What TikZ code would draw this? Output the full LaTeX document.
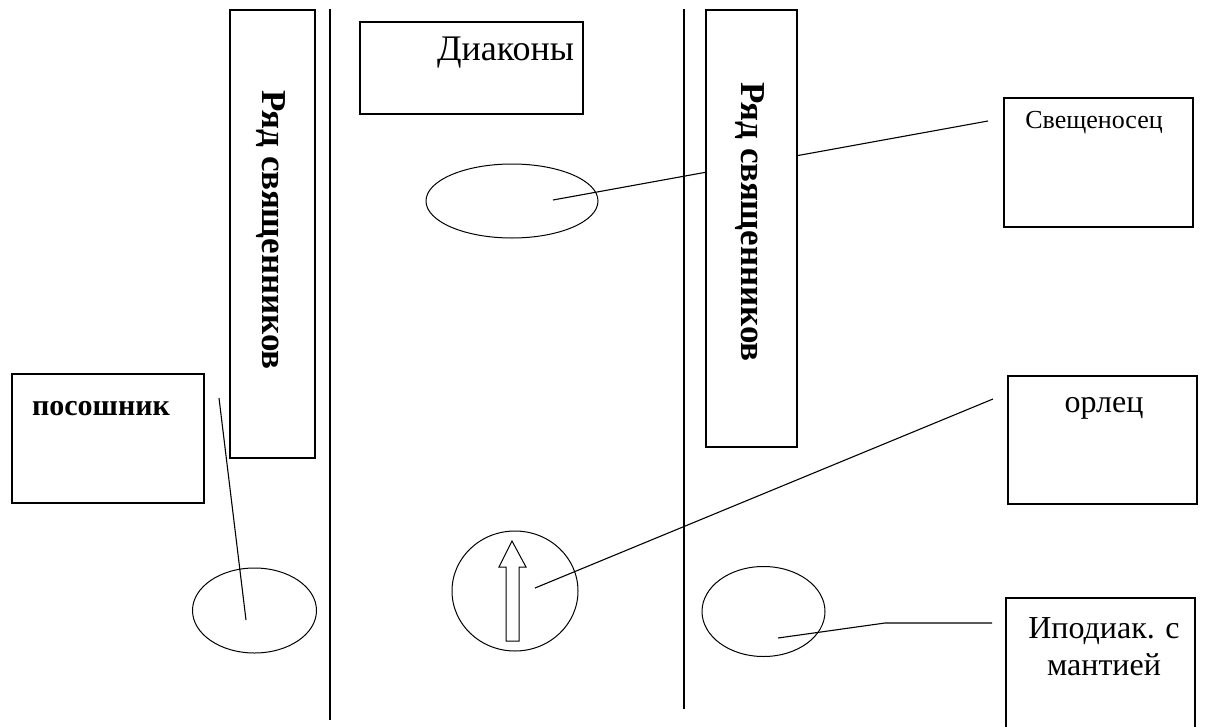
\documentclass[tikz,border=0pt]{standalone}
\usepackage{fontspec}
\setmainfont{Liberation Serif}
\usepackage{tikz}
\usetikzlibrary{shapes.geometric,positioning}

\tikzset{
  box/.style={draw, line width=1.3pt, fill=white, inner sep=0pt},
  oval/.style={draw, ellipse, line width=1pt, inner sep=0pt},
  link/.style={line width=1.1pt},
  aisle/.style={line width=1.6pt}
}

\begin{document}
\begin{tikzpicture}[x=1pt, y=-1pt]

\clip (0,0) rectangle (1213,726);
\fill[white] (0,0) rectangle (1213,726);

% Aisle lines
\coordinate (la) at (330,9);
\coordinate (lb) at (330,720);
\coordinate (ra) at (684,9);
\coordinate (rb) at (684,709);
\draw[aisle] (la) -- (lb);
\draw[aisle] (ra) -- (rb);

% Places (ovals)
\node[oval, minimum width=172pt, minimum height=74pt] (pdiak) at (512,201) {};
\node[oval, minimum width=124pt, minimum height=85pt] (pleft) at (254.5,610.5) {};
\node[oval, minimum width=123pt, minimum height=90pt] (pright) at (763.5,611.5) {};
\node[oval, minimum width=126pt, minimum height=120pt] (pbishop) at (515,591) {};

% Bishop arrow
\draw[line width=1pt] (506,641) -- (506,567) -- (499,567) -- (512,541)
  -- (526,567) -- (519,567) -- (519,641) -- cycle;

% Pointers
\coordinate (cdiak) at (553,200);
\coordinate (csvech) at (988,121);
\coordinate (cleft) at (246,620);
\coordinate (cpos) at (219,398);
\coordinate (cbishop) at (535,588);
\coordinate (corl) at (993,399);
\coordinate (cright) at (778,638);
\coordinate (ckink) at (885,623);
\coordinate (cipod) at (992,623);
\draw[link] (cdiak) -- (csvech);
\draw[link] (cleft) -- (cpos);
\draw[link] (cbishop) -- (corl);
\draw[link] (cright) -- (ckink) -- (cipod);

% Rows of priests
\node[box, minimum width=85pt, minimum height=448pt] (lrow) at (272.5,234) {};
\node[font=\fontsize{35}{40}\selectfont\bfseries, rotate=-90] (lrowtxt) at (271,230) {Ряд священников};
\node[box, minimum width=91pt, minimum height=437pt] (rrow) at (751.5,228.5) {};
\node[font=\fontsize{35}{40}\selectfont\bfseries, rotate=-90] (rrowtxt) at (750,222) {Ряд священников};

% Deacons
\node[box, minimum width=223pt, minimum height=92pt] (diak) at (471.5,68) {};
\node[font=\fontsize{36}{40}\selectfont] (diaktxt) at (505.5,53) {Диаконы};

% Servers
\node[box, minimum width=189pt, minimum height=129pt] (svech) at (1098.5,162.5) {};
\node[font=\fontsize{26}{30}\selectfont] (svechtxt) at (1094,123) {Свещеносец};
\node[box, minimum width=192pt, minimum height=129pt] (pos) at (108,438.5) {};
\node[font=\fontsize{30}{34}\selectfont\bfseries] (postxt) at (101,409) {посошник};
\node[box, minimum width=189pt, minimum height=128pt] (orl) at (1102.5,440) {};
\node[font=\fontsize{32}{36}\selectfont] (orltxt) at (1104,408) {орлец};
\node[box, minimum width=189pt, minimum height=150pt] (ipod) at (1100.5,673) {};
\node[font=\fontsize{32}{37}\selectfont, align=center] (ipodtxt) at (1104,646.5) {Иподиак. с\\мантией};

\end{tikzpicture}
\end{document}
